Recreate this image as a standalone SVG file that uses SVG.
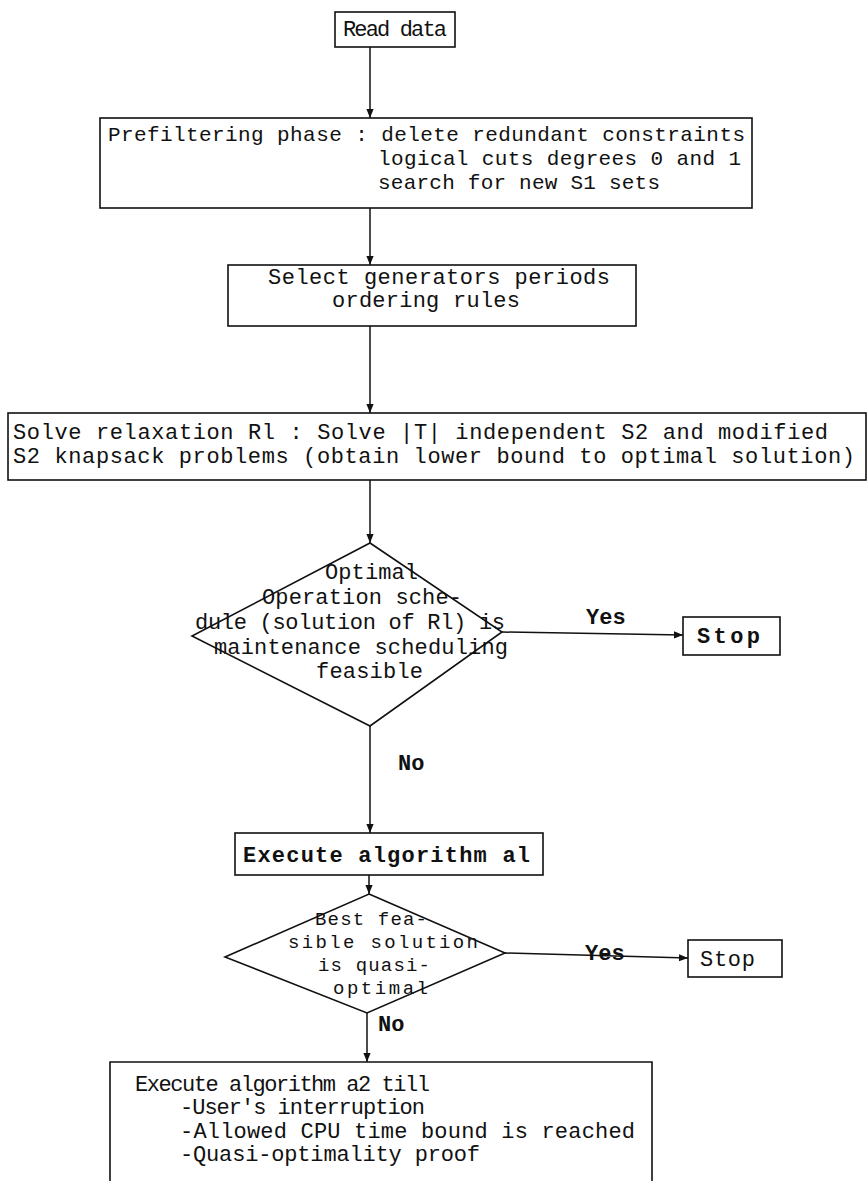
<svg xmlns="http://www.w3.org/2000/svg" width="868" height="1181" viewBox="0 0 868 1181">
  <style>
    .box { fill: #fff; stroke: #111; stroke-width: 1.6; }
    .edge { fill: none; stroke: #111; stroke-width: 1.5; }
    text { font-family: "Liberation Mono", "DejaVu Sans Mono", monospace; font-size: 22px; fill: #111; }
    .s { font-size: 21px; }
    .t { font-size: 19px; }
    .b { font-weight: bold; }
  </style>
  <defs>
    <marker id="arrow" viewBox="0 0 10 10" refX="10" refY="5" markerWidth="9" markerHeight="9" markerUnits="userSpaceOnUse" orient="auto">
      <path d="M0,1 L10,5 L0,9 z" fill="#111"/>
    </marker>
  </defs>
  <rect width="868" height="1181" fill="#fff"/>

  <!-- flow connectors -->
  <g id="connectors">
    <line class="edge" x1="370" y1="47" x2="370" y2="118" marker-end="url(#arrow)"/>
    <line class="edge" x1="370" y1="208" x2="370" y2="265" marker-end="url(#arrow)"/>
    <line class="edge" x1="370" y1="326" x2="370" y2="413" marker-end="url(#arrow)"/>
    <line class="edge" x1="370" y1="480" x2="370" y2="543" marker-end="url(#arrow)"/>
    <line class="edge" x1="502" y1="632" x2="683" y2="635" marker-end="url(#arrow)"/>
    <line class="edge" x1="370" y1="726" x2="370" y2="833" marker-end="url(#arrow)"/>
    <line class="edge" x1="369" y1="875" x2="369" y2="894" marker-end="url(#arrow)"/>
    <line class="edge" x1="505" y1="953" x2="688" y2="958" marker-end="url(#arrow)"/>
    <line class="edge" x1="367" y1="1013" x2="367" y2="1062" marker-end="url(#arrow)"/>
    <text class="b" x="586" y="624">Yes</text>
    <text class="b" x="398" y="770">No</text>
    <text class="b" x="585" y="960">Yes</text>
    <text class="b" x="378" y="1031">No</text>
  </g>

  <g id="read-data">
    <rect class="box" x="335" y="12" width="120" height="35"/>
    <text x="343" y="36" textLength="104">Read data</text>
  </g>

  <g id="prefiltering">
    <rect class="box" x="100" y="118" width="652" height="90"/>
    <text class="s" x="108" y="141" textLength="637">Prefiltering phase : delete redundant constraints</text>
    <text class="s" x="378" y="165" textLength="363">logical cuts degrees 0 and 1</text>
    <text class="s" x="378" y="189" textLength="282">search for new S1 sets</text>
  </g>

  <g id="select">
    <rect class="box" x="228" y="265" width="408" height="61"/>
    <text x="268" y="284" textLength="342">Select generators periods</text>
    <text x="332" y="307" textLength="188">ordering rules</text>
  </g>

  <g id="relaxation">
    <rect class="box" x="8" y="413" width="858" height="67"/>
    <text x="13" y="439" textLength="815">Solve relaxation Rl : Solve |T| independent S2 and modified</text>
    <text x="13" y="463" textLength="842">S2 knapsack problems (obtain lower bound to optimal solution)</text>
  </g>

  <g id="feasible-check">
    <polygon class="box" points="370,543 502,632 370,726 192,636"/>
    <text x="325" y="579" textLength="93">Optimal</text>
    <text x="262" y="604" textLength="200">Operation sche-</text>
    <text x="195" y="629" textLength="310">dule (solution of Rl) is</text>
    <text x="214" y="654" textLength="294">maintenance scheduling</text>
    <text x="316" y="678" textLength="107">feasible</text>
  </g>

  <g id="stop-1">
    <rect class="box" x="683" y="617" width="97" height="38"/>
    <text class="b" x="697" y="643" textLength="63">Stop</text>
  </g>

  <g id="algorithm-a1">
    <rect class="box" x="235" y="833" width="308" height="42"/>
    <text class="b" x="243" y="862" textLength="287">Execute algorithm al</text>
  </g>

  <g id="quasi-optimal-check">
    <polygon class="box" points="369,894 505,953 367,1013 225,957"/>
    <text class="t" x="315" y="925" textLength="112">Best fea-</text>
    <text class="t" x="288" y="948" textLength="190">sible solution</text>
    <text class="t" x="318" y="971" textLength="112">is quasi-</text>
    <text class="t" x="333" y="994" textLength="95">optimal</text>
  </g>

  <g id="stop-2">
    <rect class="box" x="688" y="940" width="94" height="37"/>
    <text x="700" y="966" textLength="55">Stop</text>
  </g>

  <g id="algorithm-a2">
    <path class="box" d="M110,1181 V1062 H652 V1181"/>
    <text x="135" y="1091" textLength="295">Execute algorithm a2 till</text>
    <text x="180" y="1114" textLength="245">-User's interruption</text>
    <text x="180" y="1138" textLength="455">-Allowed CPU time bound is reached</text>
    <text x="180" y="1161" textLength="300">-Quasi-optimality proof</text>
  </g>
</svg>
